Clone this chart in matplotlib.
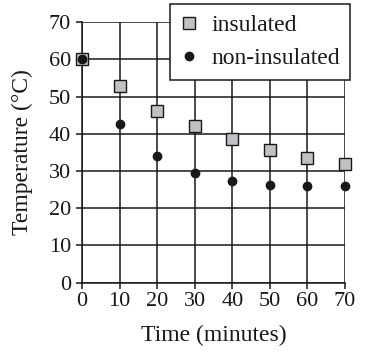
import matplotlib
matplotlib.use("Agg")
import matplotlib.pyplot as plt

time_min = [0, 10, 20, 30, 40, 50, 60, 70]
insulated = [60, 52.8, 46.1, 42.1, 38.6, 35.6, 33.5, 31.9]
non_insulated = [60, 42.5, 33.9, 29.4, 27.4, 26.3, 26.0, 26.0]
x_ticks = [0, 10, 20, 30, 40, 50, 60, 70]
y_ticks = [0, 10, 20, 30, 40, 50, 60, 70]

plt.rcParams['font.family'] = ['Liberation Serif', 'DejaVu Serif']
ink = '#1a1718'

fig = plt.figure(figsize=(3.71, 3.62), dpi=100)
ax = fig.add_axes([0.221, 0.219, 0.709, 0.720])

ax.set_xlim(0, 70)
ax.set_ylim(0, 70)
ax.set_xticks(x_ticks)
ax.set_yticks(y_ticks)
ax.grid(True, color=ink, linewidth=1.1)
ax.set_axisbelow(True)
for s in ['top', 'right']:
    ax.spines[s].set_visible(False)
for s in ['left', 'bottom']:
    ax.spines[s].set_color(ink)
    ax.spines[s].set_linewidth(1.1)
ax.tick_params(axis='both', colors=ink, labelsize=16, length=4, width=1.1)
ax.tick_params(axis='x', pad=3)
ax.tick_params(axis='y', pad=4)
for lab in ax.get_xticklabels() + ax.get_yticklabels():
    lab.set_color(ink)

ax.plot(time_min, insulated, linestyle='none', marker='s', markersize=9,
        markerfacecolor='#c0c1c4', markeredgecolor=ink, markeredgewidth=1.0,
        label='insulated', clip_on=False, zorder=3)
ax.plot(time_min, non_insulated, linestyle='none', marker='o', markersize=6,
        markerfacecolor=ink, markeredgecolor=ink, label='non-insulated',
        clip_on=False, zorder=4)

ax.set_xlabel('Time (minutes)', fontsize=17, color=ink, labelpad=10)
ax.set_ylabel('Temperature (°C)', fontsize=17, color=ink, labelpad=11)

leg = fig.legend(loc='upper left', bbox_to_anchor=(0.458, 0.989),
                 bbox_transform=fig.transFigure, fontsize=17, frameon=True,
                 fancybox=False, edgecolor=ink, framealpha=1.0,
                 handlelength=0.7, handletextpad=0.6, borderpad=0.45,
                 labelspacing=0.5, borderaxespad=0)
leg.get_frame().set_linewidth(1.1)
for t in leg.get_texts():
    t.set_color(ink)

fig.savefig('out.png', dpi=100)
